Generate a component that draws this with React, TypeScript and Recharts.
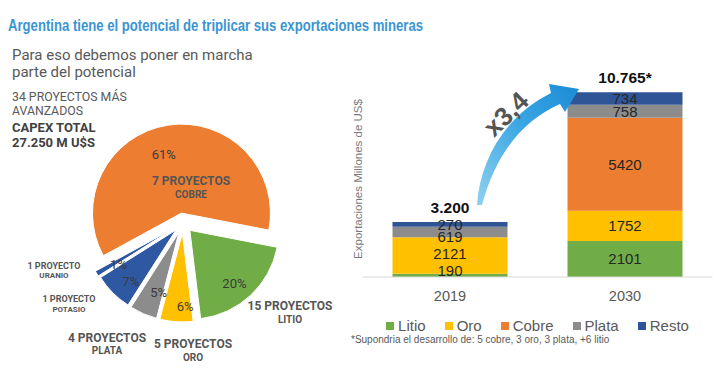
import React from 'react';
import { PieChart, Pie, Cell, BarChart, Bar, XAxis, YAxis, LabelList, Legend } from 'recharts';

// ---------- DATA ----------
const pieNames = ['Litio', 'Oro', 'Plata', 'Potasio', 'Uranio', 'Cobre'];
const pieShares = [20, 6, 5, 7, 1, 61];
const pieProjects = [15, 5, 4, 1, 1, 7];

const years = ['2019', '2030'];
const seriesNames = ['Litio', 'Oro', 'Cobre', 'Plata', 'Resto'];
const litio = [190, 2101];
const oro = [2121, 1752];
const cobre = [0, 5420];
const plata = [619, 758];
const resto = [270, 734];
const totalMarks = ['', '*'];

const titleText = 'Argentina tiene el potencial de triplicar sus exportaciones mineras';
const subtitleLines = ['Para eso debemos poner en marcha', 'parte del potencial'];
const infoLines = ['34 PROYECTOS MÁS', 'AVANZADOS'];
const capexLines = ['CAPEX TOTAL', '27.250 M U$S'];
const yAxisTitle = 'Exportaciones Millones de US$';
const footnote = '*Supondria el desarrollo de: 5 cobre, 3 oro, 3 plata, +6 litio';

// ---------- STYLE ----------
const PIE_COLORS = ['#70ad47', '#ffc000', '#8c8c8c', '#2f58a3', '#2f58a3', '#ed7d31'];
const BAR_COLORS: Record<string, string> = {
  Litio: '#70ad47',
  Oro: '#ffc000',
  Cobre: '#ed7d31',
  Plata: '#8c8c8c',
  Resto: '#2f5597',
};
const PIE_CX = 183;
const PIE_CY = 223;
const PIE_R = 89;
const START = -11;
const EXPLODE = [10, 10, 10, 10, 11, 10];
const LABEL_R = [0.78, 0.83, 0.72, 0.77, 0.74, 0.69];
const LABEL_DA = [-3, 6, 5, 4, 3, 8];
const PROJ_POS = [
  { x: 290, y1: 310, y2: 323, f1: 12, f2: 10 },
  { x: 193, y1: 348, y2: 361, f1: 12, f2: 10 },
  { x: 107, y1: 342, y2: 354, f1: 12, f2: 10 },
  { x: 69, y1: 302, y2: 312, f1: 9, f2: 8 },
  { x: 54, y1: 269, y2: 278, f1: 9, f2: 8 },
  { x: 191, y1: 185, y2: 198, f1: 12, f2: 10 },
];
const SEG_DY: Record<string, number[]> = {
  Litio: [-5, 0],
  Oro: [-2, 0],
  Cobre: [0, 0],
  Plata: [4, 0],
  Resto: [0, 0],
};

const pieData = pieNames.map((name, i) => ({ name, value: pieShares[i] }));
const pieTotal = pieShares.reduce((a, b) => a + b, 0);
const mids: number[] = [];
{
  let acc = 0;
  pieShares.forEach((v) => {
    const s = START - (acc / pieTotal) * 360;
    acc += v;
    const e = START - (acc / pieTotal) * 360;
    mids.push((s + e) / 2);
  });
}

const seriesValues: Record<string, number[]> = { Litio: litio, Oro: oro, Cobre: cobre, Plata: plata, Resto: resto };
const barData = years.map((year, i) => {
  const row: Record<string, any> = { year };
  seriesNames.forEach((s) => {
    row[s] = seriesValues[s][i];
  });
  return row;
});
const totals = years.map((_, i) => seriesNames.reduce((sum, s) => sum + seriesValues[s][i], 0));
const fmtThousands = (n: number) => String(n).replace(/\B(?=(\d{3})+(?!\d))/g, '.');
const ratioText = 'x' + (totals[1] / totals[0]).toFixed(1).replace('.', ',');

const RAD = Math.PI / 180;

const getBox = (p: any) => {
  const vb = p.viewBox || {};
  return {
    x: p.x ?? vb.x,
    y: p.y ?? vb.y,
    width: p.width ?? vb.width,
    height: p.height ?? vb.height,
  };
};

const segLabel = (key: string) => (p: any) => {
  const { x, y, width, height } = getBox(p);
  if (!p.value) return null;
  return (
    <text
      x={x + width / 2}
      y={y + height / 2 + SEG_DY[key][p.index]}
      textAnchor="middle"
      dominantBaseline="central"
      fontSize={15}
      fontFamily="Liberation Sans, Arial, sans-serif"
      fill="#262626"
    >
      {p.value}
    </text>
  );
};

const totalLabel = (p: any) => {
  const { x, y, width } = getBox(p);
  return (
    <text
      x={x + width / 2}
      y={y - 9}
      textAnchor="middle"
      fontSize={15.5}
      fontWeight="bold"
      fontFamily="Liberation Sans, Arial, sans-serif"
      fill="#111"
    >
      {fmtThousands(totals[p.index]) + totalMarks[p.index]}
    </text>
  );
};

const pctLabel = (i: number) => (p: any) => {
  if (p.index !== i) return null;
  const a = (p.midAngle + LABEL_DA[i]) * RAD;
  const r = p.outerRadius * LABEL_R[i];
  return (
    <text
      x={p.cx + r * Math.cos(a)}
      y={p.cy - r * Math.sin(a)}
      textAnchor="middle"
      dominantBaseline="central"
      fontSize={13}
      fontFamily="Roboto, sans-serif"
      fill="#3a3a3a"
    >
      {p.value + '%'}
    </text>
  );
};

const legendContent = (p: any) => {
  const items = [...(p.payload || [])].sort(
    (a: any, b: any) => seriesNames.indexOf(a.value) - seriesNames.indexOf(b.value)
  );
  return (
    <div
      style={{
        display: 'flex',
        justifyContent: 'center',
        gap: 19,
        fontFamily: 'Liberation Sans, Arial, sans-serif',
        fontSize: 15,
        lineHeight: '18px',
        color: '#595959',
      }}
    >
      {items.map((it: any) => (
        <div key={it.value} style={{ display: 'flex', alignItems: 'center' }}>
          <span style={{ width: 8, height: 8, background: it.color, marginRight: 4, display: 'inline-block' }} />
          <span>{it.value}</span>
        </div>
      ))}
    </div>
  );
};

export default function App() {
  return (
    <div
      style={{
        position: 'absolute',
        left: 0,
        top: 0,
        width: 714,
        height: 379,
        background: '#fff',
        overflow: 'hidden',
      }}
    >
      <div style={{ position: 'absolute', left: 0, top: 0 }}>
        <PieChart width={340} height={379} margin={{ top: 0, right: 0, bottom: 0, left: 0 }}>
          {pieShares.map((_, i) => {
            const a = mids[i] * RAD;
            const cx = PIE_CX + EXPLODE[i] * Math.cos(a);
            const cy = PIE_CY - EXPLODE[i] * Math.sin(a);
            return (
              <Pie
                key={i}
                data={pieData}
                dataKey="value"
                nameKey="name"
                cx={cx}
                cy={cy}
                innerRadius={0}
                outerRadius={PIE_R}
                startAngle={START}
                endAngle={START - 360}
                isAnimationActive={false}
                labelLine={false}
                label={pctLabel(i)}
              >
                {pieData.map((d, j) => (
                  <Cell
                    key={d.name}
                    fill={j === i ? PIE_COLORS[j] : 'transparent'}
                    stroke={j === i ? '#ffffff' : 'none'}
                    strokeWidth={1}
                  />
                ))}
              </Pie>
            );
          })}
        </PieChart>
      </div>

      <div style={{ position: 'absolute', left: 340, top: 0 }}>
        <BarChart
          width={374}
          height={379}
          data={barData}
          margin={{ top: 71, right: 1.5, bottom: 72, left: 22.5 }}
          barSize={115}
        >
          <XAxis
            dataKey="year"
            tickLine={false}
            tickMargin={8}
            axisLine={{ stroke: '#d9d9d9' }}
            tick={{ fontSize: 14.5, fill: '#595959', fontFamily: 'Liberation Sans, Arial, sans-serif' }}
          />
          <YAxis hide domain={[0, 12000]} />
          <Legend
            layout="horizontal"
            verticalAlign="middle"
            align="center"
            wrapperStyle={{ top: 317, left: 22.5, width: 350 }}
            content={legendContent}
          />
          {seriesNames.map((key) => (
            <Bar key={key} dataKey={key} stackId="a" fill={BAR_COLORS[key]} isAnimationActive={false}>
              <LabelList dataKey={key} content={segLabel(key)} />
              {key === 'Resto' ? <LabelList dataKey={key} content={totalLabel} /> : null}
            </Bar>
          ))}
        </BarChart>
      </div>

      <svg
        width={714}
        height={379}
        style={{ position: 'absolute', left: 0, top: 0, pointerEvents: 'none' }}
      >
        <defs>
          <linearGradient id="arrowGrad" x1="0" y1="1" x2="1" y2="0">
            <stop offset="0%" stopColor="#8fd0f2" />
            <stop offset="55%" stopColor="#3aa6e3" />
            <stop offset="100%" stopColor="#1b8bd6" />
          </linearGradient>
        </defs>
        <text
          x={8}
          y={31}
          fontSize={17}
          fontWeight="bold"
          fontFamily="Liberation Sans Narrow, Liberation Sans, Arial, sans-serif"
          fill="#3a95d2"
          textLength={415}
          lengthAdjust="spacingAndGlyphs"
        >
          {titleText}
        </text>
        {subtitleLines.map((t, i) => (
          <text key={t} x={12} y={60 + i * 16.5} fontSize={15} fontFamily="Roboto, sans-serif" fill="#595959">
            {t}
          </text>
        ))}
        {infoLines.map((t, i) => (
          <text key={t} x={12} y={101 + i * 13.5} fontSize={12.3} fontFamily="Roboto, sans-serif" fill="#595959">
            {t}
          </text>
        ))}
        {capexLines.map((t, i) => (
          <text
            key={t}
            x={12}
            y={132 + i * 15}
            fontSize={13}
            fontWeight="bold"
            fontFamily="Roboto, sans-serif"
            fill="#404040"
          >
            {t}
          </text>
        ))}
        {pieNames.map((name, i) => {
          const pos = PROJ_POS[i];
          const n = pieProjects[i];
          return (
            <g key={name} fontFamily="Roboto, sans-serif" fontWeight="bold" fill="#555555" textAnchor="middle">
              <text x={pos.x} y={pos.y1} fontSize={pos.f1}>
                {`${n} ${n === 1 ? 'PROYECTO' : 'PROYECTOS'}`}
              </text>
              <text x={pos.x} y={pos.y2} fontSize={pos.f2}>
                {name.toUpperCase()}
              </text>
            </g>
          );
        })}
        <text
          transform="translate(362,179) rotate(-90)"
          textAnchor="middle"
          fontSize={11.5}
          fontFamily="Liberation Sans, Arial, sans-serif"
          fill="#7a7a7a"
        >
          {yAxisTitle}
        </text>
        <path
          d="M 477 205 C 480 160, 505 116, 551 93 L 549 84 L 579 89 L 565 112 L 560 104 C 524 120, 496 152, 482 205 Z"
          fill="url(#arrowGrad)"
        />
        <text
          transform="translate(506,114) rotate(-44)"
          textAnchor="middle"
          dominantBaseline="central"
          fontSize={26}
          fontWeight="bold"
          fontFamily="Liberation Sans, Arial, sans-serif"
          fill="#555"
        >
          {ratioText}
        </text>
        <text x={351} y={343} fontSize={10} fontFamily="Liberation Sans, Arial, sans-serif" fill="#595959">
          {footnote}
        </text>
      </svg>
    </div>
  );
}
